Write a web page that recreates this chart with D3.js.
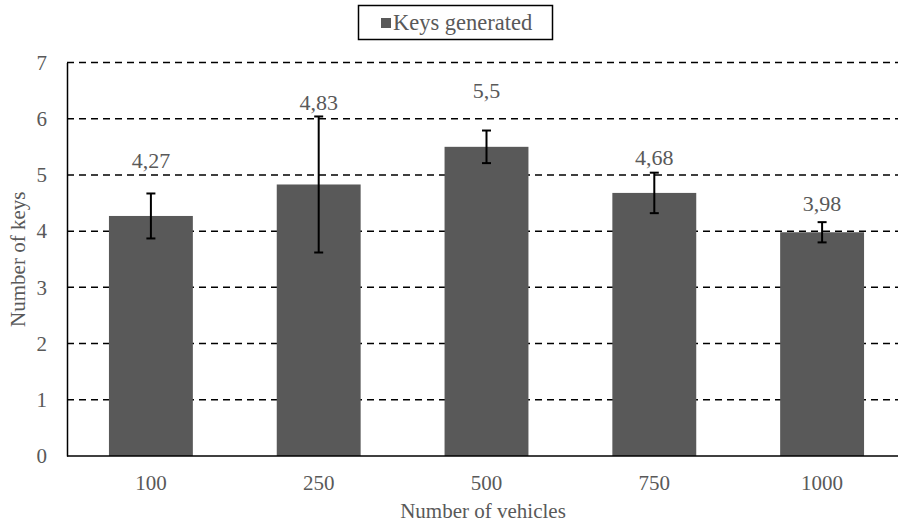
<!DOCTYPE html>
<html>
<head>
<meta charset="utf-8">
<script src="https://cdn.jsdelivr.net/npm/d3@7"></script>
<style>
  html, body { margin: 0; padding: 0; background: #fff; }
  svg { display: block; }
</style>
</head>
<body>
<svg id="chart" width="898" height="524" font-family="'Liberation Serif', 'Times New Roman', serif"></svg>
<script>
// ---- data ----
const categories = ["100", "250", "500", "750", "1000"];
const keysGenerated = [4.27, 4.83, 5.5, 4.68, 3.98];
const errorMargins = [0.40, 1.21, 0.29, 0.36, 0.18];
const valueLabels = ["4,27", "4,83", "5,5", "4,68", "3,98"];
const labelPositions = [5.12, 6.16, 6.36, 5.18, 4.36]; // label baselines, in data units
const yTicks = [0, 1, 2, 3, 4, 5, 6, 7];
const seriesName = "Keys generated";
const xTitle = "Number of vehicles";
const yTitle = "Number of keys";

// ---- layout ----
const svg = d3.select("#chart");
const FONT = "'Liberation Serif', 'Times New Roman', serif";
const TEXT_COLOR = "#595959";
const plotLeft = 67, plotRight = 906, plotTop = 62.5, plotBottom = 456;
const fontSize = 21;
const barColor = "#595959";

const x = d3.scaleBand().domain(categories).range([plotLeft, plotRight]).paddingInner(0.5).paddingOuter(0.25);
const y = d3.scaleLinear().domain([0, 7]).range([plotBottom, plotTop]);

// gridlines
svg.append("g")
  .selectAll("line")
  .data(yTicks.filter(d => d > 0))
  .join("line")
  .attr("x1", plotLeft).attr("x2", 898)
  .attr("y1", d => y(d)).attr("y2", d => y(d))
  .attr("stroke", "#000")
  .attr("stroke-width", 1.5)
  .attr("stroke-dasharray", "7,5");

// bars
svg.append("g")
  .selectAll("rect")
  .data(categories)
  .join("rect")
  .attr("x", d => x(d))
  .attr("width", x.bandwidth())
  .attr("y", (d, i) => y(keysGenerated[i]))
  .attr("height", (d, i) => y(0) - y(keysGenerated[i]))
  .attr("fill", barColor);

// error bars
const eb = svg.append("g").attr("stroke", "#000").attr("stroke-width", 2);
categories.forEach((c, i) => {
  const cx = x(c) + x.bandwidth() / 2;
  const hi = y(keysGenerated[i] + errorMargins[i]);
  const lo = y(keysGenerated[i] - errorMargins[i]);
  eb.append("line").attr("x1", cx).attr("x2", cx).attr("y1", hi).attr("y2", lo);
  eb.append("line").attr("x1", cx - 4.5).attr("x2", cx + 4.5).attr("y1", hi).attr("y2", hi);
  eb.append("line").attr("x1", cx - 4.5).attr("x2", cx + 4.5).attr("y1", lo).attr("y2", lo);
});

// value labels
svg.append("g")
  .selectAll("text")
  .data(categories)
  .join("text")
  .attr("x", d => x(d) + x.bandwidth() / 2)
  .attr("y", (d, i) => y(labelPositions[i]))
  .attr("text-anchor", "middle")
  .attr("font-family", FONT)
  .attr("font-size", 22)
  .attr("fill", TEXT_COLOR)
  .text((d, i) => valueLabels[i]);

// y axis
const yAxis = svg.append("g")
  .attr("transform", `translate(${plotLeft},0)`)
  .call(d3.axisLeft(y).tickValues(yTicks).tickSize(0).tickPadding(20).tickFormat(d3.format("d")));
yAxis.attr("font-family", FONT).attr("font-size", fontSize);
yAxis.select(".domain").attr("stroke", "#000").attr("stroke-width", 1.5);
yAxis.selectAll("text").attr("fill", TEXT_COLOR);

// x axis
const xAxis = svg.append("g")
  .attr("transform", `translate(0,${plotBottom})`)
  .call(d3.axisBottom(x).tickSize(0).tickPadding(19));
xAxis.attr("font-family", FONT).attr("font-size", fontSize);
xAxis.select(".domain").attr("d", `M${plotLeft},0H898`).attr("stroke", "#000").attr("stroke-width", 1.5);
xAxis.selectAll("text").attr("fill", TEXT_COLOR);

// axis titles
svg.append("text")
  .attr("x", 483).attr("y", 518)
  .attr("text-anchor", "middle")
  .attr("font-family", FONT)
  .attr("font-size", fontSize)
  .attr("fill", TEXT_COLOR)
  .text(xTitle);

svg.append("text")
  .attr("transform", `translate(25,${(plotTop + plotBottom) / 2}) rotate(-90)`)
  .attr("text-anchor", "middle")
  .attr("font-family", FONT)
  .attr("font-size", fontSize)
  .attr("fill", TEXT_COLOR)
  .text(yTitle);

// legend
const lg = svg.append("g");
lg.append("rect")
  .attr("x", 358.5).attr("y", 5.5).attr("width", 194).attr("height", 34)
  .attr("fill", "#fff").attr("stroke", "#000").attr("stroke-width", 1.5);
lg.append("rect")
  .attr("x", 381).attr("y", 18).attr("width", 10).attr("height", 10)
  .attr("fill", barColor);
lg.append("text")
  .attr("x", 393).attr("y", 30)
  .attr("font-family", FONT)
  .attr("font-size", 22.5)
  .attr("fill", TEXT_COLOR)
  .text(seriesName);
</script>
</body>
</html>
